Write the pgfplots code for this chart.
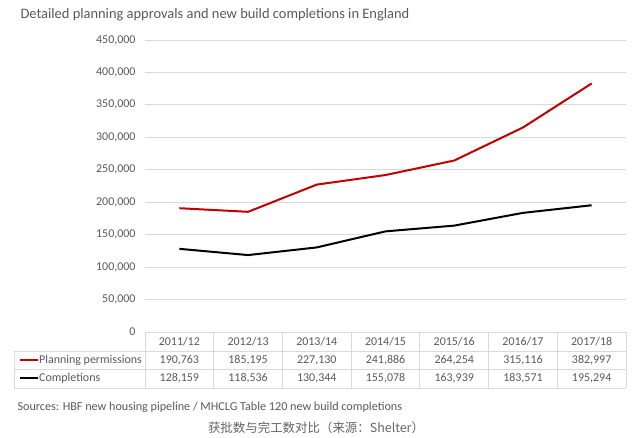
\documentclass[border=0pt]{standalone}
\usepackage{pgfplots}
\pgfplotsset{compat=1.18}
\usepackage{pgfplotstable}
\usepackage{fontspec}
\setmainfont{Carlito}
\newfontfamily\cjk{Noto Sans CJK SC}
\definecolor{txt}{RGB}{89,89,89}
\definecolor{gridc}{RGB}{217,217,217}
\definecolor{ppc}{RGB}{192,0,0}
\pgfkeys{/pgf/number format/.cd, fixed, 1000 sep={,}, assume math mode=true}

\pgfplotstableread{
x pp comp
0 190763 128159
1 185195 118536
2 227130 130344
3 241886 155078
4 264254 163939
5 315116 183571
6 382997 195294
}\data

\begin{document}
\begin{tikzpicture}[x=1bp,y=1bp]
\path (0,0) rectangle (640,438);
\begin{axis}[
  at={(145bp,106bp)}, anchor=south west, scale only axis,
  width=481bp, height=292bp,
  xmin=-0.5, xmax=6.5, ymin=0, ymax=450000,
  ytick={0,50000,...,450000}, xtick=\empty,
  ymajorgrids, grid style={gridc, line width=0.8pt},
  axis line style={draw=none}, major tick length=0pt,
  scaled y ticks=false,
  yticklabel style={font=\fontsize{12}{14}\selectfont, text=txt, xshift=-6bp},
  yticklabel={\pgfmathprintnumber{\tick}},
  clip=false,
]
\addplot[ppc, line width=2bp, no marks] table[x=x, y=pp] {\data};
\addplot[black, line width=2bp, no marks] table[x=x, y=comp] {\data};
\end{axis}
% title
\node[anchor=west, text=txt, font=\fontsize{14.5}{16}\selectfont] at (17,423) {Detailed planning approvals and new build completions in England};
% data table grid
\begin{scope}[draw=gridc, line width=0.8pt]
\draw (145,106) -- (626,106);
\draw (14,87) -- (626,87);
\draw (14,69) -- (626,69);
\draw (14,50) -- (626,50);
\draw (14,87) -- (14,50);
\foreach \k in {0,...,7} {\draw ({145+68.714*\k},106) -- ({145+68.714*\k},50);}
\end{scope}
% header row
\foreach \i/\lab in {0/2011\slash 12,1/2012\slash 13,2/2013\slash 14,3/2014\slash 15,4/2015\slash 16,5/2016\slash 17,6/2017\slash 18} {
  \node[text=txt, font=\fontsize{12}{14}\selectfont] at ({145+68.714*(\i+0.5)},96) {\lab};
}
% values
\foreach \i in {0,...,6} {
  \pgfplotstablegetelem{\i}{pp}\of\data
  \node[text=txt, font=\fontsize{12}{14}\selectfont] at ({145+68.714*(\i+0.5)},78) {\pgfmathprintnumber{\pgfplotsretval}};
  \pgfplotstablegetelem{\i}{comp}\of\data
  \node[text=txt, font=\fontsize{12}{14}\selectfont] at ({145+68.714*(\i+0.5)},59.5) {\pgfmathprintnumber{\pgfplotsretval}};
}
% legend keys
\draw[ppc, line width=2bp] (20,78) -- (38,78);
\draw[black, line width=2bp] (20,59.5) -- (38,59.5);
\node[anchor=west, inner sep=0pt, text=txt, font=\fontsize{12}{14}\selectfont] at (39,78) {Planning permissions};
\node[anchor=west, inner sep=0pt, text=txt, font=\fontsize{12}{14}\selectfont] at (39,59.5) {Completions};
% sources
\node[anchor=west, text=txt, font=\fontsize{12.2}{14}\selectfont] at (14,31) {Sources: HBF new housing pipeline / MHCLG Table 120 new build completions};
\node[text={rgb,255:red,100;green,100;blue,100}, font=\cjk\fontsize{12.5}{14}\selectfont] at (316,10) {获批数与完工数对比（来源：Shelter）};
\end{tikzpicture}
\end{document}
